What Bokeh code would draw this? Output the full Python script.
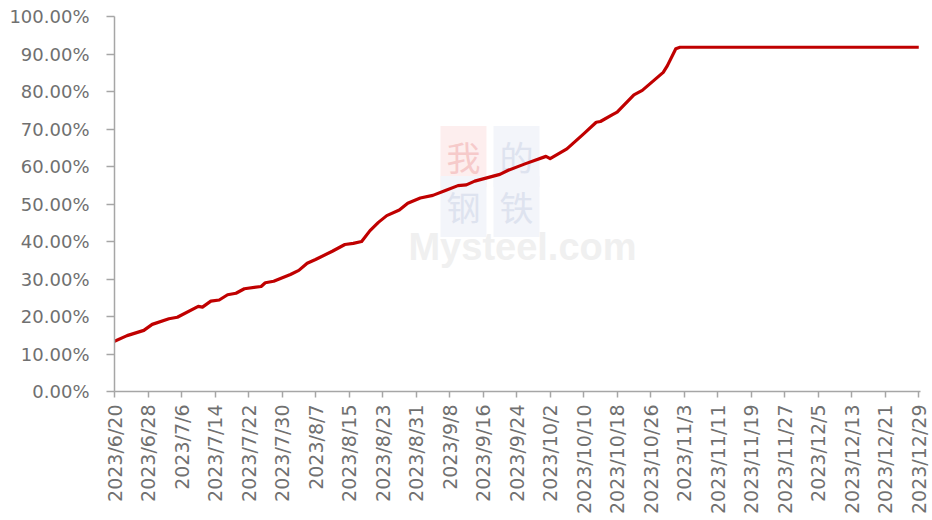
import pandas as pd
from math import pi
from bokeh.plotting import figure
from bokeh.models import Range1d, FixedTicker, PrintfTickFormatter, CustomJSTickFormatter, Label, ColumnDataSource
from bokeh.embed import file_html
from bokeh.resources import INLINE

# ---- data ----
dates = ["2023-06-20", "2023-06-23", "2023-06-27", "2023-06-29", "2023-07-03", "2023-07-05",
         "2023-07-10", "2023-07-11", "2023-07-13", "2023-07-15", "2023-07-17", "2023-07-19",
         "2023-07-21", "2023-07-25", "2023-07-26", "2023-07-28", "2023-08-01", "2023-08-03",
         "2023-08-05", "2023-08-07", "2023-08-11", "2023-08-14", "2023-08-16", "2023-08-18",
         "2023-08-20", "2023-08-22", "2023-08-24", "2023-08-27", "2023-08-29", "2023-09-01",
         "2023-09-04", "2023-09-07", "2023-09-10", "2023-09-12", "2023-09-14", "2023-09-16",
         "2023-09-20", "2023-09-22", "2023-09-26", "2023-10-01", "2023-10-02", "2023-10-06",
         "2023-10-10", "2023-10-13", "2023-10-14", "2023-10-17", "2023-10-18", "2023-10-22",
         "2023-10-24", "2023-10-29", "2023-10-30", "2023-11-01", "2023-11-02", "2023-12-29"]
values = [13.4, 14.9, 16.3, 17.9, 19.4, 19.8,
          22.7, 22.5, 24.1, 24.4, 25.8, 26.2,
          27.4, 28.0, 29.0, 29.4, 31.2, 32.3,
          34.2, 35.2, 37.4, 39.2, 39.5, 40.0,
          42.9, 45.1, 46.9, 48.4, 50.2, 51.6,
          52.3, 53.6, 54.9, 55.1, 56.1, 56.7,
          57.9, 59.0, 60.7, 62.7, 62.1, 64.7,
          68.7, 71.8, 72.0, 73.9, 74.5, 79.1,
          80.3, 85.1, 86.9, 91.4, 91.8, 91.8]
tick_dates = ["2023-06-20", "2023-06-28", "2023-07-06", "2023-07-14", "2023-07-22", "2023-07-30",
              "2023-08-07", "2023-08-15", "2023-08-23", "2023-08-31", "2023-09-08", "2023-09-16",
              "2023-09-24", "2023-10-02", "2023-10-10", "2023-10-18", "2023-10-26", "2023-11-03",
              "2023-11-11", "2023-11-19", "2023-11-27", "2023-12-05", "2023-12-13", "2023-12-21",
              "2023-12-29"]
y_ticks = [0, 10, 20, 30, 40, 50, 60, 70, 80, 90, 100]

x = pd.to_datetime(dates)
src = ColumnDataSource(data=dict(x=x, y=values))
tick_ms = [pd.Timestamp(d).value // 10**6 for d in tick_dates]

x_start = pd.Timestamp(tick_dates[0])
x_end = pd.Timestamp(tick_dates[-1]) + pd.Timedelta(hours=10)

p = figure(width=930, height=518, x_axis_type="datetime",
           x_range=Range1d(x_start, x_end), y_range=Range1d(0, 100),
           output_backend="svg", toolbar_location=None,
           min_border_left=114, min_border_right=10, min_border_top=16, min_border_bottom=127)
p.outline_line_color = None
p.xgrid.visible = False
p.ygrid.visible = False
p.background_fill_color = "white"
p.border_fill_color = "white"

# watermark (behind the line)
wm = dict(x_units="screen", y_units="screen", text_font="Noto Sans CJK SC", text_font_size="34px",
          text_align="center", text_baseline="middle", level="underlay", padding=6)
p.add_layout(Label(x=349, y=235, text="我", text_color="#f6caca", background_fill_color="#fdeeee", **wm))
p.add_layout(Label(x=402, y=235, text="的", text_color="#dee3ef", background_fill_color="#f3f5fa", **wm))
p.add_layout(Label(x=349, y=185, text="钢", text_color="#dee3ef", background_fill_color="#f3f5fa", **wm))
p.add_layout(Label(x=402, y=185, text="铁", text_color="#dee3ef", background_fill_color="#f3f5fa", **wm))
p.add_layout(Label(x=408, y=145, text="Mysteel.com", text_color="#f0f0f0", text_font="Liberation Sans",
                   text_font_style="bold", text_font_size="38px", x_units="screen", y_units="screen",
                   text_align="center", text_baseline="middle", level="underlay"))

p.line("x", "y", source=src, line_color="#c00000", line_width=3.2, line_join="round")

axis_color = "#a6a6a6"
label_color = "#707070"
for ax in (p.xaxis[0], p.yaxis[0]):
    ax.axis_line_color = axis_color
    ax.axis_line_width = 1.5
    ax.major_tick_line_color = axis_color
    ax.major_tick_line_width = 1.5
    ax.minor_tick_line_color = None
    ax.major_tick_in = 0
    ax.major_label_text_color = label_color
    ax.major_label_text_font = "DejaVu Sans"

p.yaxis[0].ticker = FixedTicker(ticks=y_ticks)
p.yaxis[0].formatter = PrintfTickFormatter(format="%.2f%%")
p.yaxis[0].major_tick_out = 8
p.yaxis[0].major_label_standoff = 17
p.yaxis[0].major_label_text_font_size = "18px"

p.xaxis[0].ticker = FixedTicker(ticks=tick_ms)
p.xaxis[0].formatter = CustomJSTickFormatter(code="""
const d = new Date(tick);
return d.getUTCFullYear() + '/' + (d.getUTCMonth() + 1) + '/' + d.getUTCDate();
""")
p.xaxis[0].major_tick_out = 6
p.xaxis[0].major_label_orientation = pi / 2
p.xaxis[0].major_label_standoff = 7
p.xaxis[0].major_label_text_font_size = "19px"

open("out.html", "w").write(file_html(p, INLINE))
